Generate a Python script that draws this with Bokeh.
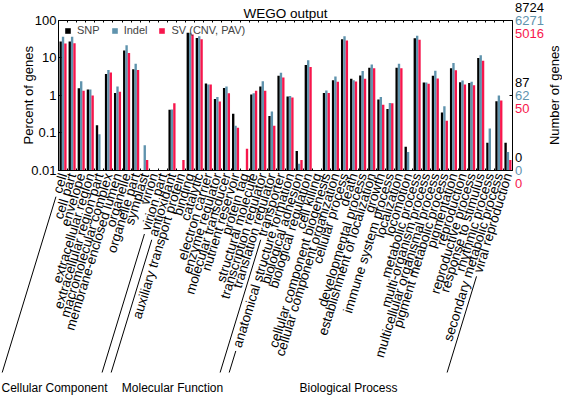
import numpy as np
from math import radians, sin, cos, pi
from bokeh.plotting import figure
from bokeh.models import (Range1d, FixedTicker, LinearAxis, LogAxis, Label, Arrow,
                          CustomJSTickFormatter)
from bokeh.embed import file_html
from bokeh.resources import INLINE

# ---------------- data ----------------
cc_terms = ["cell", "cell part", "envelope", "extracellular region", "extracellular region part",
            "macromolecular complex", "membrane-enclosed lumen", "organelle", "organelle part",
            "symplast", "virion", "virion part"]
mf_terms = ["antioxidant", "auxiliary transport protein", "binding", "catalytic", "electron carrier",
            "enzyme regulator", "molecular transducer", "nutrient reservoir", "protein tag",
            "structural molecule", "transcription regulator", "translation regulator", "transporter"]
bp_terms = ["anatomical structure formation", "biological adhesion", "biological regulation",
            "cell killing", "cellular component biogenesis", "cellular component organization",
            "cellular process", "death", "developmental process", "establishment of localization",
            "growth", "immune system process", "localization", "locomotion", "metabolic process",
            "multi-organism process", "multicellular organismal process", "pigment metabolic process",
            "pigmentation", "reproduction", "reproductive process", "response to stimulus",
            "rhythmic process", "secondary metabolic process", "viral reproduction"]
group_names = ["Cellular Component", "Molecular Function", "Biological Process"]
categories = cc_terms + mf_terms + bp_terms

series_names = ["SNP", "Indel", "SV (CNV, PAV)"]
series_totals = [8724, 6271, 5016]

snp_pct = [27, 27, 1.54, 1.42, 0.16, 3.65, 1.15, 15.4, 4.9, 0, 0, 0,
           0.41, 0, 46, 33, 2.05, 0.80, 1.57, 0.32, 0, 1.04, 1.71, 0.28, 3.3,
           0.92, 0.033, 6.4, 0, 1.15, 2.5, 31, 2.74, 3.37, 5.4, 0.77, 0.43, 5.4, 0.043, 32.5,
           2.18, 3.3, 0.35, 5.2, 2.23, 2.13, 9.8, 0.055, 0.69, 0.055]
indel_pct = [35.8, 35.8, 2.37, 1.42, 0.092, 4.68, 1.71, 21.4, 6.9, 0.047, 0, 0,
             0.42, 0, 46, 37, 1.93, 0.90, 1.71, 0.154, 0, 1.13, 2.37, 0.37, 3.96,
             0.96, 0.015, 8.5, 0, 1.33, 3.16, 37, 2.52, 4.4, 6.6, 0.90, 0.62, 6.9, 0.031, 38,
             2.18, 4.5, 0.51, 7.2, 2.47, 2.3, 11.5, 0.13, 0.98, 0.031]
sv_pct = [23.7, 24, 1.31, 0.98, 0, 4.05, 1.23, 13.3, 4.68, 0.019, 0, 0,
          0.61, 0.019, 41, 31, 1.93, 0.68, 1.13, 0.136, 0.038, 1.31, 1.31, 0.154, 2.97,
          0.87, 0.019, 5.6, 0, 1.15, 2.28, 28.5, 2.32, 2.74, 5.2, 0.56, 0.61, 5.2, 0, 30,
          2.01, 2.8, 0.21, 4.6, 1.93, 1.85, 8.3, 0, 0.72, 0.019]

left_ticks = [0.01, 0.1, 1, 10, 100]
right_ticks = [100, 1, 0.01]

# ---------------- style / layout ----------------
COLORS = ["#000000", "#5f93ad", "#f7164c"]
FONT = "Liberation Sans"
W, H = 562, 395
BOX_L, BOX_R, BOX_T, BOX_B = 58, 512, 19.5, 170      # plot box on the canvas (px)
ANGLE = radians(73)
LABEL_FS = 13.5
STANDOFF = 3
BAR_W = 0.26
LINE_END_Y = 372

n = len(categories)
x_centers = np.arange(n) + 0.5
bounds = list(range(n + 1))
ymin, ymax = min(left_ticks), max(left_ticks)
PX = (BOX_R - BOX_L) / n
DEC = (BOX_B - BOX_T) / np.log10(ymax / ymin)

# the frame fills the canvas; axes sit on the plot box through fixed_location
p = figure(width=W, height=H,
           x_range=Range1d(-BOX_L / PX, (W - BOX_L) / PX),
           y_range=Range1d(ymin * 10 ** (-(H - BOX_B) / DEC), ymax * 10 ** (BOX_T / DEC)),
           y_axis_type="log", x_axis_location=None, y_axis_location=None,
           output_backend="svg", toolbar_location=None, min_border=0)
p.title.visible = False
p.xgrid.visible = False
p.ygrid.visible = False
p.outline_line_color = None
p.background_fill_color = "white"
p.border_fill_color = "white"

offsets = [-BAR_W, 0, BAR_W]
for vals, off, col, name in zip([snp_pct, indel_pct, sv_pct], offsets, COLORS, series_names):
    v = np.array(vals, dtype=float)
    m = v > 0
    p.vbar(x=x_centers[m] + off, bottom=ymin, top=v[m], width=BAR_W,
           fill_color=col, line_color=None, legend_label=name)

# bottom axis: category labels, ticks at category boundaries
xa = LinearAxis(fixed_location=ymin, bounds=(0, n),
                ticker=FixedTicker(ticks=list(x_centers), minor_ticks=bounds),
                formatter=CustomJSTickFormatter(args=dict(names=categories),
                                                code="return names[Math.floor(tick)]"),
                axis_line_color="black", major_tick_line_color=None,
                major_tick_in=0, major_tick_out=0, minor_tick_in=2, minor_tick_out=0,
                minor_tick_line_color="black", major_label_orientation=ANGLE,
                major_label_standoff=STANDOFF, major_label_text_font=FONT,
                major_label_text_font_size=f"{LABEL_FS}px", major_label_text_color="black")
p.add_layout(xa, "below")

# top axis: boundary ticks only
ta = LinearAxis(fixed_location=ymax, bounds=(0, n), ticker=FixedTicker(ticks=bounds),
                formatter=CustomJSTickFormatter(code="return ''"),
                major_label_text_font_size="1px", axis_line_color="black",
                major_tick_in=2, major_tick_out=0, minor_tick_line_color=None,
                major_label_standoff=0)
p.add_layout(ta, "above")

# left axis
ya = LogAxis(fixed_location=0, bounds=(ymin, ymax), ticker=FixedTicker(ticks=left_ticks),
             formatter=CustomJSTickFormatter(code="return tick.toString()"),
             axis_line_color="black", major_tick_in=3, major_tick_out=0,
             minor_tick_line_color=None, major_label_standoff=2,
             major_label_text_font=FONT, major_label_text_font_size="13px",
             major_label_text_color="black")
p.add_layout(ya, "left")

# right axis
ra = LogAxis(fixed_location=n, bounds=(ymin, ymax), ticker=FixedTicker(ticks=right_ticks),
             formatter=CustomJSTickFormatter(code="return ''"),
             major_label_text_font_size="1px", axis_line_color="black",
             major_tick_in=3, major_tick_out=0, minor_tick_line_color=None,
             major_label_standoff=0)
p.add_layout(ra, "right")

# right-hand gene counts (percent of each series total)
for v in right_ticks:
    for total, col, off in zip(series_totals, COLORS, [13, 0, -13]):
        p.add_layout(Label(x=n, y=v, x_units="data", y_units="data", x_offset=2.5, y_offset=off,
                           text=str(int(total * v / 100)),
                           text_align="left", text_baseline="middle", text_color=col,
                           text_font=FONT, text_font_size="13px"))

# legend
leg = p.legend[0]
leg.orientation = "horizontal"
leg.location = (BOX_L + 6, H - 36)
leg.background_fill_alpha = 0
leg.border_line_color = None
leg.glyph_width = 7
leg.glyph_height = 7
leg.label_standoff = 6
leg.spacing = 11
leg.padding = 3
leg.margin = 0
leg.label_height = 10
leg.label_width = 10
leg.label_text_font = FONT
leg.label_text_font_size = "11px"

# title and axis titles
p.add_layout(Label(x=n / 2, y=H - 13, x_units="data", y_units="screen", text="WEGO output",
                   text_align="center", text_baseline="alphabetic", text_font=FONT,
                   text_font_size="13.5px", text_color="black"))
p.add_layout(Label(x=28, y=H - (BOX_T + BOX_B) / 2, x_units="screen", y_units="screen",
                   text="Percent of genes", angle=pi / 2, text_align="center",
                   text_baseline="middle", text_font=FONT, text_font_size="13px",
                   text_color="black"))
p.add_layout(Label(x=W - 8, y=H - (BOX_T + BOX_B) / 2, x_units="screen", y_units="screen",
                   text="Number of genes", angle=pi / 2, text_align="center",
                   text_baseline="middle", text_font=FONT, text_font_size="13px",
                   text_color="black"))

# ontology brackets: lines continuing the first/last label of each ontology
CHAR_W = {'a': .556, 'b': .556, 'c': .5, 'd': .556, 'e': .556, 'f': .278, 'g': .556, 'h': .556,
          'i': .222, 'j': .222, 'k': .5, 'l': .222, 'm': .833, 'n': .556, 'o': .556, 'p': .556,
          'q': .556, 'r': .333, 's': .5, 't': .278, 'u': .556, 'v': .5, 'w': .722, 'x': .5,
          'y': .5, 'z': .5, ' ': .278, '-': .333}


def text_len(s, fs):
    return fs * sum(CHAR_W.get(ch, .556) for ch in s)


groups = [(0, len(cc_terms)), (len(cc_terms), len(cc_terms) + len(mf_terms)),
          (len(cc_terms) + len(mf_terms), n)]
for (a, b) in groups:
    for i in (a, b - 1):
        xc = BOX_L + (i + 0.5) * PX
        y0 = BOX_B + STANDOFF
        t0 = text_len(categories[i], LABEL_FS) + 4
        t1 = (LINE_END_Y - y0) / sin(ANGLE)
        if t1 <= t0:
            continue
        p.add_layout(Arrow(end=None, start_units="screen", end_units="screen",
                           x_start=xc - t0 * cos(ANGLE), y_start=H - (y0 + t0 * sin(ANGLE)),
                           x_end=xc - t1 * cos(ANGLE), y_end=H - (y0 + t1 * sin(ANGLE)),
                           line_color="black", line_width=1))

group_pos = [(1, "left"), (172, "center"), (348, "center")]
for name, (gx, al) in zip(group_names, group_pos):
    p.add_layout(Label(x=gx, y=H - 387, x_units="screen", y_units="screen", text=name,
                       text_align=al, text_baseline="alphabetic", text_font=FONT,
                       text_font_size="12px", text_color="black"))

open("out.html", "w").write(file_html(p, INLINE))
